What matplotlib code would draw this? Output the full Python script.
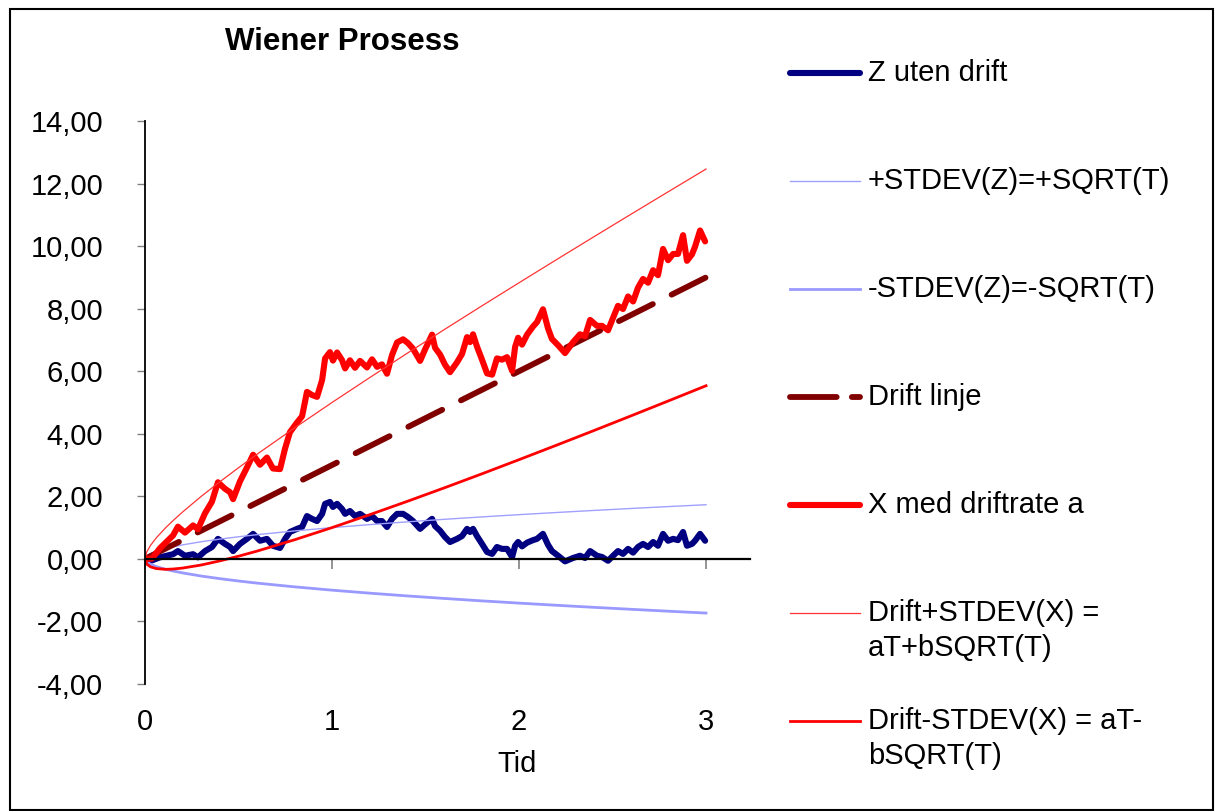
import matplotlib
matplotlib.use("Agg")
import matplotlib.pyplot as plt
from matplotlib.lines import Line2D
from matplotlib.patches import Rectangle
from matplotlib.ticker import FuncFormatter

plt.rcParams['font.family'] = ['Liberation Sans', 'DejaVu Sans']

# --- data ---
# Wiener process paths (Z without drift, X with drift rate a)
t_walk = [0.000, 0.037, 0.080, 0.150, 0.176, 0.214, 0.257, 0.283, 0.321, 0.358,
          0.390, 0.428, 0.455, 0.471, 0.508, 0.545, 0.578, 0.615, 0.652, 0.684,
          0.722, 0.749, 0.775, 0.813, 0.840, 0.866, 0.893, 0.920, 0.947, 0.963,
          0.989, 1.005, 1.027, 1.053, 1.070, 1.096, 1.123, 1.150, 1.187, 1.214,
          1.241, 1.267, 1.294, 1.321, 1.348, 1.380, 1.406, 1.433, 1.471, 1.497,
          1.535, 1.551, 1.578, 1.604, 1.631, 1.668, 1.695, 1.722, 1.738, 1.754,
          1.775, 1.802, 1.829, 1.856, 1.882, 1.909, 1.936, 1.963, 1.979, 1.995,
          2.016, 2.043, 2.075, 2.096, 2.128, 2.155, 2.176, 2.209, 2.246, 2.289,
          2.326, 2.353, 2.380, 2.417, 2.444, 2.476, 2.503, 2.529, 2.556, 2.583,
          2.610, 2.636, 2.663, 2.690, 2.717, 2.743, 2.770, 2.797, 2.824, 2.850,
          2.877, 2.898, 2.925, 2.941, 2.968, 2.995]
z_walk = [0.00, -0.05, 0.05, 0.15, 0.25, 0.10, 0.15, 0.05, 0.25, 0.38,
          0.64, 0.48, 0.38, 0.25, 0.48, 0.64, 0.80, 0.58, 0.64, 0.42,
          0.35, 0.64, 0.86, 0.96, 1.02, 1.37, 1.28, 1.21, 1.44, 1.76,
          1.82, 1.66, 1.76, 1.60, 1.44, 1.53, 1.37, 1.44, 1.28, 1.37,
          1.21, 1.21, 1.02, 1.28, 1.44, 1.44, 1.34, 1.21, 0.96, 1.10,
          1.28, 1.05, 0.90, 0.70, 0.54, 0.64, 0.73, 0.96, 0.86, 0.96,
          0.73, 0.48, 0.22, 0.16, 0.38, 0.32, 0.32, 0.06, 0.42, 0.54,
          0.40, 0.52, 0.60, 0.64, 0.80, 0.45, 0.25, 0.10, -0.08, 0.03,
          0.10, 0.03, 0.25, 0.10, 0.06, -0.06, 0.10, 0.25, 0.16, 0.32,
          0.20, 0.38, 0.48, 0.38, 0.54, 0.42, 0.80, 0.58, 0.64, 0.60,
          0.86, 0.42, 0.48, 0.58, 0.80, 0.58]
x_walk = [0.00, 0.01, 0.34, 0.75, 1.03, 0.84, 1.07, 0.95, 1.46, 1.83,
          2.45, 2.24, 2.13, 1.91, 2.48, 2.92, 3.33, 3.01, 3.24, 2.89,
          2.87, 3.53, 4.05, 4.36, 4.56, 5.34, 5.24, 5.18, 5.72, 6.41,
          6.61, 6.34, 6.60, 6.36, 6.09, 6.35, 6.11, 6.33, 6.12, 6.38,
          6.14, 6.22, 5.92, 6.52, 6.92, 7.02, 6.90, 6.72, 6.33, 6.69,
          7.17, 6.75, 6.53, 6.21, 5.97, 6.28, 6.55, 7.09, 6.93, 7.18,
          6.79, 6.37, 5.93, 5.89, 6.41, 6.37, 6.45, 6.01, 6.78, 7.07,
          6.85, 7.17, 7.43, 7.57, 7.98, 7.37, 7.03, 6.83, 6.58, 6.93,
          7.18, 7.12, 7.64, 7.45, 7.45, 7.31, 7.71, 8.09, 7.99, 8.39,
          8.23, 8.67, 8.95, 8.83, 9.23, 9.07, 9.91, 9.55, 9.75, 9.75,
          10.35, 9.53, 9.74, 9.98, 10.50, 10.15]

# smooth bands
t_band = [0, 0.01, 0.03, 0.06, 0.11, 0.15, 0.2, 0.3, 0.4, 0.5, 0.6, 0.8,
          1.0, 1.2, 1.4, 1.6, 1.8, 2.0, 2.2, 2.4, 2.6, 2.8, 3.0]
sd_pos = [0, 0.10, 0.173, 0.245, 0.332, 0.387, 0.447, 0.548, 0.632, 0.707, 0.775, 0.894,
          1.0, 1.095, 1.183, 1.265, 1.342, 1.414, 1.483, 1.549, 1.612, 1.673, 1.732]
sd_neg = [0, -0.10, -0.173, -0.245, -0.332, -0.387, -0.447, -0.548, -0.632, -0.707, -0.775, -0.894,
          -1.0, -1.095, -1.183, -1.265, -1.342, -1.414, -1.483, -1.549, -1.612, -1.673, -1.732]
x_upper = [0, 0.23, 0.436, 0.67, 0.994, 1.224, 1.494, 1.996, 2.464, 2.914, 3.35, 4.188,
           5.0, 5.79, 6.566, 7.33, 8.084, 8.828, 9.566, 10.298, 11.024, 11.746, 12.464]
x_lower = [0, -0.17, -0.256, -0.31, -0.334, -0.324, -0.294, -0.196, -0.064, 0.086, 0.25, 0.612,
           1.0, 1.41, 1.834, 2.27, 2.716, 3.172, 3.634, 4.102, 4.576, 5.054, 5.536]

# drift line aT
t_drift = [0, 1, 2, 3]
drift = [0, 3, 6, 9]

x_ticks = [0, 1, 2, 3]
y_ticks = [-4, -2, 0, 2, 4, 6, 8, 10, 12, 14]

labels = ["Z uten drift", "+STDEV(Z)=+SQRT(T)", "-STDEV(Z)=-SQRT(T)", "Drift linje",
          "X med driftrate a", "Drift+STDEV(X) =\naT+bSQRT(T)", "Drift-STDEV(X) = aT-\nbSQRT(T)"]

W, H = 1215, 811
fig = plt.figure(figsize=(W / 100, H / 100), dpi=100)
ax = fig.add_axes([145 / W, 1 - 684 / H, 605 / W, 563 / H])

thick = dict(solid_capstyle='round', solid_joinstyle='round')
styles = [
    dict(color='#000080', lw=4.4, **thick),
    dict(color='#A0A0FF', lw=1.0),
    dict(color='#9999FF', lw=2.0),
    dict(color='#800000', lw=4.2, dashes=(6.5, 3.6), dash_capstyle='round'),
    dict(color='#FF0000', lw=4.4, **thick),
    dict(color='#FF3333', lw=0.9),
    dict(color='#FF0000', lw=2.0),
]
series = [(t_walk, z_walk), (t_band, sd_pos), (t_band, sd_neg), (t_drift, drift),
          (t_walk, x_walk), (t_band, x_upper), (t_band, x_lower)]
for (tx, ty), st in zip(series, styles):
    ax.plot(tx, ty, **st)

ax.set_xlim(0, 3.235)
ax.set_ylim(-4, 14)
ax.spines['top'].set_visible(False)
ax.spines['right'].set_visible(False)
ax.spines['bottom'].set_position(('data', 0))
ax.spines['bottom'].set_linewidth(1.6)
ax.spines['left'].set_linewidth(1.3)
ax.set_xticks(x_ticks)
ax.set_yticks(y_ticks)
ax.yaxis.set_major_formatter(FuncFormatter(lambda v, p: f"{v:.2f}".replace('.', ',')))
ax.tick_params(axis='x', direction='out', length=7, width=1.2, color='#808080', pad=100, labelsize=21)
ax.tick_params(axis='y', direction='out', length=6, width=1.0, color='#808080', pad=24, labelsize=21)
ax.set_xlabel("Tid", fontsize=21)
ax.xaxis.set_label_coords(0.615, -0.118)

ax.text(0.326, 1.14, "Wiener Prosess", transform=ax.transAxes, ha='center', va='center',
        fontsize=22.5, fontweight='bold')

# legend, drawn by hand to keep Excel's row layout
row0, step, line_gap = 73, 108, 35
for i, (lab, st) in enumerate(zip(labels, styles)):
    y = 1 - (row0 + i * step) / H
    st = dict(st)
    if 'dashes' in st:
        st['dashes'] = (8, 2.6)
    fig.add_artist(Line2D([790 / W, 860 / W], [y, y], transform=fig.transFigure, **st))
    for j, part in enumerate(lab.split('\n')):
        fig.text(868 / W, y - j * line_gap / H, part, fontsize=21, va='center', ha='left')

# outer chart frame
fig.add_artist(Rectangle((10 / W, 1 / H), 1203 / W, 801 / H, transform=fig.transFigure,
                         fill=False, edgecolor='black', lw=1.5))

fig.savefig("out.png", dpi=100)
